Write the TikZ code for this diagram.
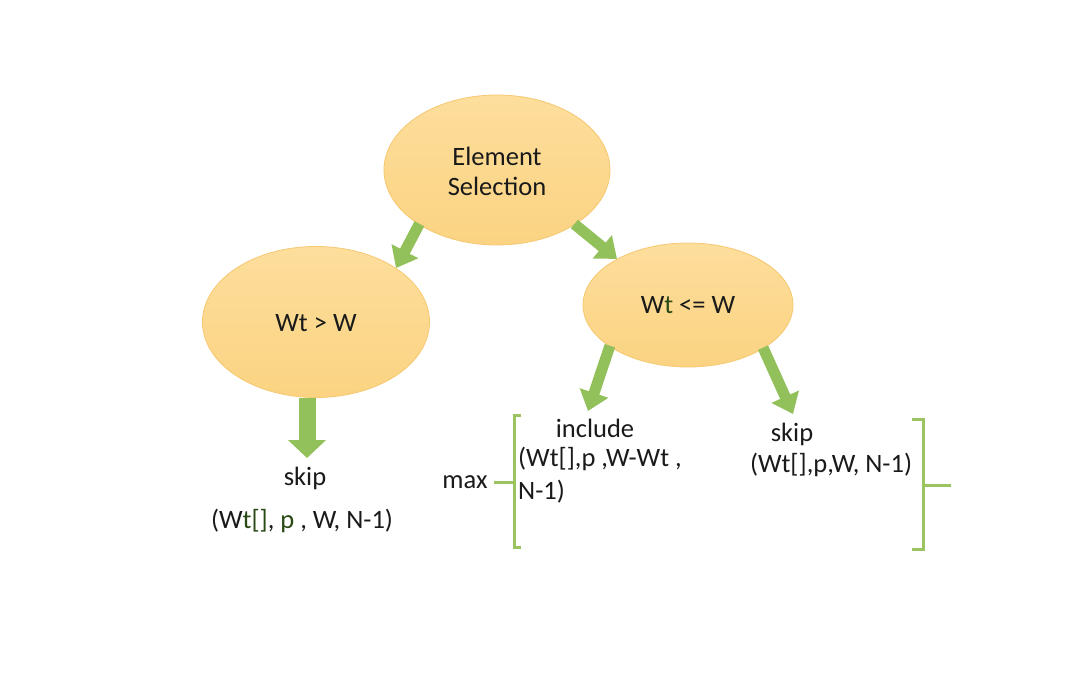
\documentclass[tikz,border=0pt]{standalone}
\usepackage{fontspec}
\setmainfont{Carlito}
\usetikzlibrary{arrows.meta,shapes.geometric}
\definecolor{ellfillA}{RGB}{253,222,156}
\definecolor{ellfillB}{RGB}{251,211,130}
\definecolor{elledge}{RGB}{246,200,112}
\definecolor{arrgreen}{RGB}{146,192,90}
\definecolor{brgreen}{RGB}{155,196,96}
\definecolor{txt}{RGB}{26,26,26}
\definecolor{dkg}{RGB}{40,72,20}
\tikzset{
  ell/.style={ellipse, draw=elledge, line width=0.8pt, top color=ellfillA, bottom color=ellfillB, inner sep=0pt},
  fat/.style={arrgreen, line width=11pt, -{Triangle[width=29pt,length=19pt]}, shorten <=-1pt},
  fatter/.style={arrgreen, line width=17pt, -{Triangle[width=37pt,length=18pt]}},
  lbl/.style={text=txt, font=\fontsize{26.5}{30}\selectfont, inner sep=0pt},
  brk/.style={brgreen, line width=3pt, line cap=butt}
}
\begin{document}
\begin{tikzpicture}[x=1pt,y=-1pt]
\useasboundingbox (0,0) rectangle (1066,690);
\fill[white] (0,0) rectangle (1066,690);
% ellipses
\node[ell, minimum width=226pt, minimum height=150pt] (es) at (497,170) {};
\node[ell, minimum width=227pt, minimum height=151pt] (gt) at (316,322) {};
\node[ell, minimum width=210pt, minimum height=124pt] (le) at (688,305) {};
% ellipse labels
\node[lbl, align=center] (esl) at (497,171) {Element\\Selection};
\node[lbl] (gtl) at (316,323) {Wt {>} W};
\node[lbl] (lel) at (688,305) {W\textcolor{dkg}{t} {<}= W};
% arrow tip coordinates
\coordinate (t3) at (307,458);
\coordinate (t4) at (588,411);
\coordinate (t5) at (793,414);
% arrows
\draw[fat] (es.215) -- (gt.34);
\draw[fat] (es.-35) -- (le.147);
\draw[fatter] (gt.south -| t3) -- (t3);
\draw[fat] (le.208) -- (t4);
\draw[fat] (le.-30) -- (t5);
% texts
\node[lbl] (skipL) at (305,478) {skip};
\node[lbl] (argL) at (302,521) {(W\textcolor{dkg}{t[]}, \textcolor{dkg}{p} , W, N-1)};
\node[lbl] (incl) at (595,428) {include};
\node[lbl, align=left, anchor=north west, font=\fontsize{26.5}{33}\selectfont] (argI) at (518,447) {(Wt[],p ,W-Wt ,\\N-1)};
\node[lbl] (skipR) at (792,434) {skip};
\node[lbl] (argR) at (831,465) {(Wt[],p,W, N-1)};
\node[lbl] (mx) at (465,482) {max};
% brackets
\coordinate (lbT) at (514,415);
\coordinate (lbB) at (514,547);
\coordinate (lbM) at (514,482);
\coordinate (lbX) at (494,482);
\draw[brk] ([xshift=7pt]lbT) -- (lbT) -- (lbB) -- ([xshift=7pt]lbB);
\draw[brk] (lbX) -- (lbM);
\coordinate (rbT) at (923,419);
\coordinate (rbB) at (923,549);
\coordinate (rbM) at (923,485);
\coordinate (rbX) at (951,485);
\draw[brk] ([xshift=-11pt]rbT) -- (rbT) -- (rbB) -- ([xshift=-11pt]rbB);
\draw[brk] (rbM) -- (rbX);
\end{tikzpicture}
\end{document}
